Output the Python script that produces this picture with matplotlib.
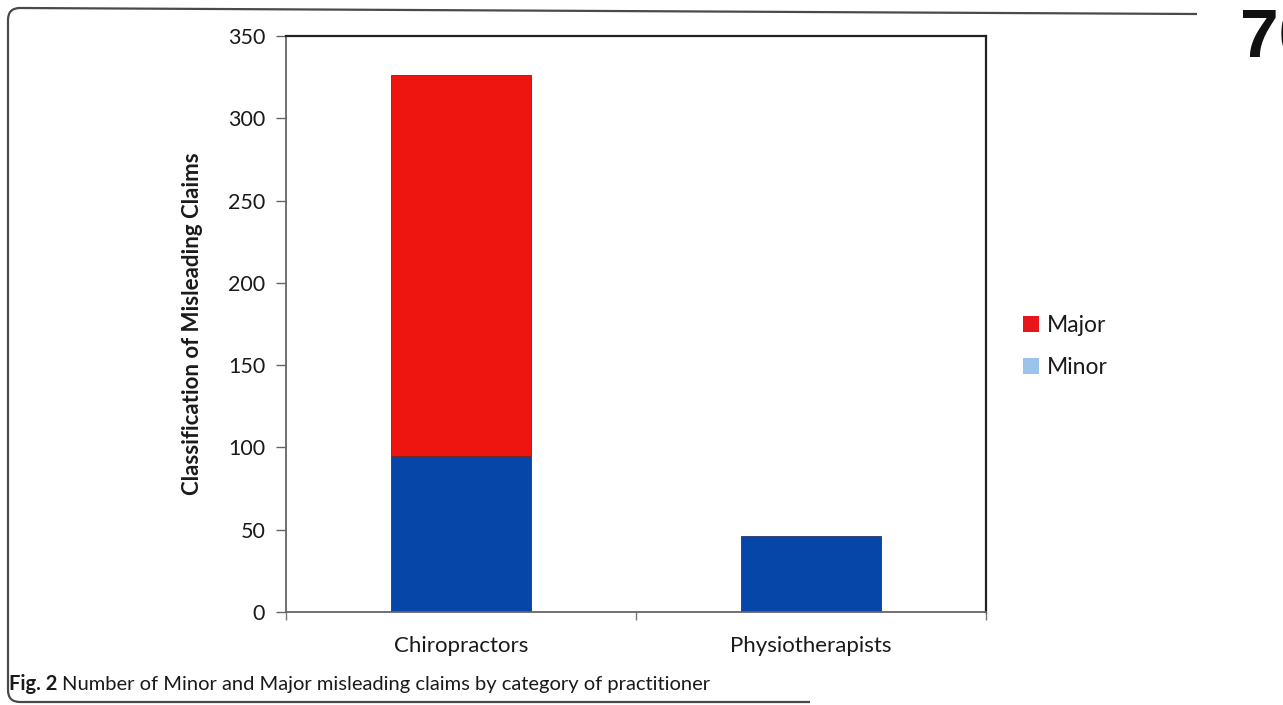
import matplotlib
matplotlib.use("Agg")
import matplotlib.pyplot as plt
from matplotlib.patches import PathPatch, Patch
from matplotlib.path import Path

plt.rcParams['font.family'] = ['Lato', 'DejaVu Sans']

groups = ['Chiropractors', 'Physiotherapists']
minor = [95, 46]
major = [231, 0]
yticks = [0, 50, 100, 150, 200, 250, 300, 350]

W, H = 1283, 705
fig = plt.figure(figsize=(W / 100, H / 100), dpi=100)
fig.patch.set_facecolor('white')


def px(xp, yp):
    # pixel position from the top-left corner -> figure fraction
    return (xp / W, 1 - yp / H)


# page frame: top rule, rounded left side, bottom rule
r = 12
verts = [px(1197, 14), px(8 + r, 8), px(8, 8), px(8, 8 + r),
         px(8, 702 - r), px(8, 702), px(8 + r, 702), px(810, 702)]
codes = [Path.MOVETO, Path.LINETO, Path.CURVE3, Path.CURVE3,
         Path.LINETO, Path.CURVE3, Path.CURVE3, Path.LINETO]
fig.patches.append(PathPatch(Path(verts, codes), transform=fig.transFigure,
                             fill=False, edgecolor='#4a4a4a', linewidth=1.6))

ax = fig.add_axes([286 / W, 1 - 612 / H, 700 / W, 576 / H])
x = range(len(groups))
ax.bar(x, minor, width=0.4, color='#0646a9', edgecolor='#23356a', linewidth=0.6)
ax.bar(x, major, width=0.4, bottom=minor, color='#ee1410',
       edgecolor=['#7a2020' if v > 0 else 'none' for v in major], linewidth=0.6)

ax.set_xlim(-0.5, 1.5)
ax.set_ylim(0, 350)
ax.set_yticks(yticks)
ax.tick_params(axis='y', direction='out', length=7, width=1, color='#666666',
               pad=8, labelsize=15.5, labelcolor='#1a1a1a')

# boundary ticks on the category axis, labels centred between them
ax.set_xticks([-0.5, 0.5, 1.5])
ax.set_xticklabels([])
ax.set_xticks(list(x), minor=True)
ax.set_xticklabels(groups, minor=True)
ax.tick_params(axis='x', which='major', direction='out', length=6, width=1,
               color='#777777')
ax.tick_params(axis='x', which='minor', length=0, pad=17, labelsize=16,
               labelcolor='#1a1a1a')

for side in ['top', 'right']:
    ax.spines[side].set_color('#222222')
    ax.spines[side].set_linewidth(1.6)
for side in ['left', 'bottom']:
    ax.spines[side].set_color('#666666')
    ax.spines[side].set_linewidth(1.3)

ax.set_ylabel('Classification of Misleading Claims', fontsize=16,
              fontweight='bold', color='#1a1a1a')
ax.yaxis.set_label_coords(-0.119, 0.5)

handles = [Patch(facecolor='#e8161a', edgecolor='none'),
           Patch(facecolor='#9cc4ea', edgecolor='none')]
fig.legend(handles, ['Major', 'Minor'], loc='upper left',
           bbox_to_anchor=(1002 / W, 1 - 294 / H), frameon=False,
           fontsize=16.5, handlelength=0.7, handleheight=0.7,
           handletextpad=0.35, labelspacing=0.95, labelcolor='#1a1a1a')

# caption
cap1 = fig.text(9 / W, 1 - 690 / H, 'Fig. 2', fontsize=14.5, fontweight='bold',
                color='#1a1a1a', va='baseline')
fig.canvas.draw()
bb = cap1.get_window_extent()
fig.text((bb.x1 + 5) / W, 1 - 690 / H,
         'Number of Minor and Major misleading claims by category of practitioner',
         fontsize=14.5, color='#1a1a1a', va='baseline')

# page number running off the right edge
fig.text(1240 / W, 1 - 58 / H, '70', fontsize=50, fontweight='bold',
         family=['Liberation Sans Narrow', 'Liberation Sans'],
         fontstretch='condensed', color='#111111', va='baseline')

fig.savefig('out.png', dpi=100)
